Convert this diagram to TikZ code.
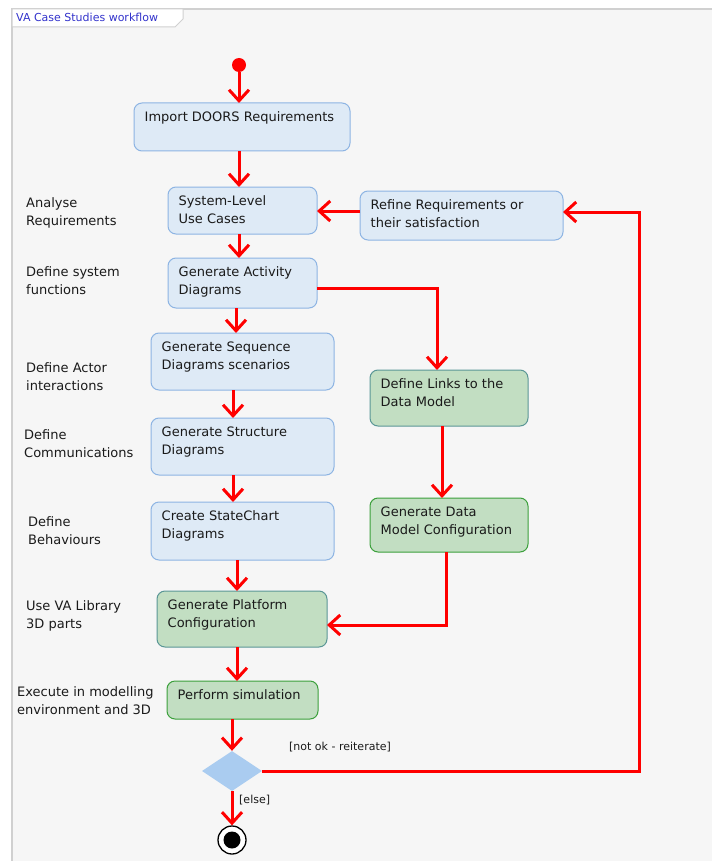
\documentclass[tikz,border=0pt]{standalone}
\usepackage{fontspec}
\setmainfont{DejaVu Sans}
\usetikzlibrary{arrows.meta,shapes.geometric,calc}

\definecolor{framebg}{RGB}{246,246,246}
\definecolor{framebd}{RGB}{208,208,208}
\definecolor{bluefill}{RGB}{222,234,246}
\definecolor{bluebd}{RGB}{141,180,227}
\definecolor{greenfill}{RGB}{194,222,194}
\definecolor{tealbd}{RGB}{90,150,150}
\definecolor{greenbd}{RGB}{60,160,60}
\definecolor{diafill}{RGB}{170,204,240}
\definecolor{tabblue}{RGB}{51,51,204}
\definecolor{txtc}{RGB}{26,26,26}

\tikzset{
  boxbase/.style={rectangle, rounded corners=8pt, line width=1pt, inner sep=0pt, outer sep=0pt},
  bluebox/.style={boxbase, fill=bluefill, draw=bluebd},
  tealbox/.style={boxbase, fill=greenfill, draw=tealbd},
  greenbox/.style={boxbase, fill=greenfill, draw=greenbd},
  boxtext/.style={anchor=north west, inner sep=0pt, align=left, text=txtc,
    font=\fontsize{13}{18}\selectfont},
  sidetext/.style={anchor=north west, inner sep=0pt, align=left, text=txtc,
    font=\fontsize{13}{18}\selectfont},
  guardtext/.style={anchor=west, inner sep=0pt, text=txtc,
    font=\fontsize{11}{13}\selectfont},
  flow/.style={draw=red, line width=3pt, -{Straight Barb[length=11pt,width=20pt]}},
}

% name, x1, y1, x2, y2, style, text
\newcommand\actbox[7]{%
  \node[#6, minimum width={#4pt-#2pt}, minimum height={#5pt-#3pt}]
    (#1) at ({(#2+#4)/2},{(#3+#5)/2}) {};
  \node[boxtext] (#1-t) at ({#2+10.5},{#3+5.9}) {\strut #7};
}

\begin{document}
\begin{tikzpicture}[x=1pt,y=-1pt]
\useasboundingbox (0,0) rectangle (712,861);
\fill[white] (0,0) rectangle (712,861);
% frame
\fill[framebg] (12,9) rectangle (712,861);
\draw[framebd, line width=2pt] (12,861) -- (12,9) -- (712,9);
% tab
\filldraw[fill=white, draw=framebd, line width=1pt] (12,9) -- (183,9) -- (183,19) -- (175,27) -- (12,27) -- cycle;
\node[anchor=west, inner sep=0pt, text=tabblue, font=\fontsize{11}{12}\selectfont] (tab) at (16,17.5) {VA Case Studies workflow};

% side labels
\node[sidetext] (l1) at (26,194.4) {\strut Analyse\\Requirements};
\node[sidetext] (l2) at (26,263.4) {\strut Define system\\functions};
\node[sidetext] (l3) at (26,359.4) {\strut Define Actor\\interactions};
\node[sidetext] (l4) at (24,426.4) {\strut Define\\Communications};
\node[sidetext] (l5) at (28,513.4) {\strut Define\\Behaviours};
\node[sidetext] (l6) at (26,597.4) {\strut Use VA Library\\3D parts};
\node[sidetext] (l7) at (17,683.4) {\strut Execute in modelling\\environment and 3D};

% activity boxes
\actbox{import}{134}{103}{350}{151}{bluebox}{Import DOORS Requirements}
\actbox{sys}{168}{187}{317}{234}{bluebox}{System-Level\\Use Cases}
\actbox{refine}{360}{191}{563}{240}{bluebox}{Refine Requirements or\\their satisfaction}
\actbox{genact}{168}{258}{317}{308}{bluebox}{Generate Activity\\Diagrams}
\actbox{genseq}{151}{333}{334}{390}{bluebox}{Generate Sequence\\Diagrams scenarios}
\actbox{links}{370}{370}{528}{426}{tealbox}{Define Links to the\\Data Model}
\actbox{genstruct}{151}{418}{334}{475}{bluebox}{Generate Structure\\Diagrams}
\actbox{gendata}{370}{498}{528}{552}{greenbox}{Generate Data\\Model Configuration}
\actbox{state}{151}{502}{334}{560}{bluebox}{Create StateChart\\Diagrams}
\actbox{genplat}{157}{591}{327}{647}{tealbox}{Generate Platform\\Configuration}
\actbox{perform}{167}{681}{318}{719}{greenbox}{Perform simulation}

% initial, decision, final
\node[circle, fill=red, minimum size=14pt, inner sep=0pt] (init) at (239,65) {};
\node[diamond, fill=diafill, minimum width=60pt, minimum height=40pt, inner sep=0pt] (dec) at (232,771) {};
\node[circle, draw=black, line width=1.3pt, fill=white, minimum size=28pt, inner sep=0pt] (final) at (232,840) {};
\node[circle, fill=black, minimum size=17pt, inner sep=0pt] (finalin) at (final.center) {};
\coordinate (loopc) at (639,771);

% guards
\node[guardtext] (g1) at (289,747) {[not ok - reiterate]};
\node[guardtext] (g2) at (239,800) {[else]};

% flows
\draw[flow] (init.south) -- (init.south |- import.north);
\draw[flow] (init.south |- import.south) -- (init.south |- sys.north);
\draw[flow] (refine.west |- 0,211) -- (sys.east |- 0,211);
\draw[flow] (init.south |- sys.south) -- (init.south |- genact.north);
\draw[flow] ([xshift=-6.5pt]genact.south) -- ([xshift=-6.5pt]genseq.north);
\draw[flow] ([yshift=-5pt]genact.east) -| ([xshift=-12pt]links.north);
\draw[flow] ([xshift=-9.5pt]genseq.south) -- ([xshift=-9.5pt]genstruct.north);
\draw[flow] ([xshift=-9.5pt]genstruct.south) -- ([xshift=-9.5pt]state.north);
\draw[flow] ([xshift=-5.5pt]state.south) -- ([xshift=-5pt]genplat.north);
\draw[flow] ([xshift=-7pt]links.south) -- ([xshift=-7pt]gendata.north);
\draw[flow] ([xshift=-3pt]gendata.south) |- ([yshift=-6pt]genplat.east);
\draw[flow] ([xshift=-5pt]genplat.south) -- ([xshift=-5.5pt]perform.north);
\draw[flow] ([xshift=-10.5pt]perform.south) -- (dec.north);
\draw[flow] (dec.east) -- (loopc) |- ([yshift=3.5pt]refine.east);
\draw[flow] (dec.south) -- (final.north);
\end{tikzpicture}
\end{document}
